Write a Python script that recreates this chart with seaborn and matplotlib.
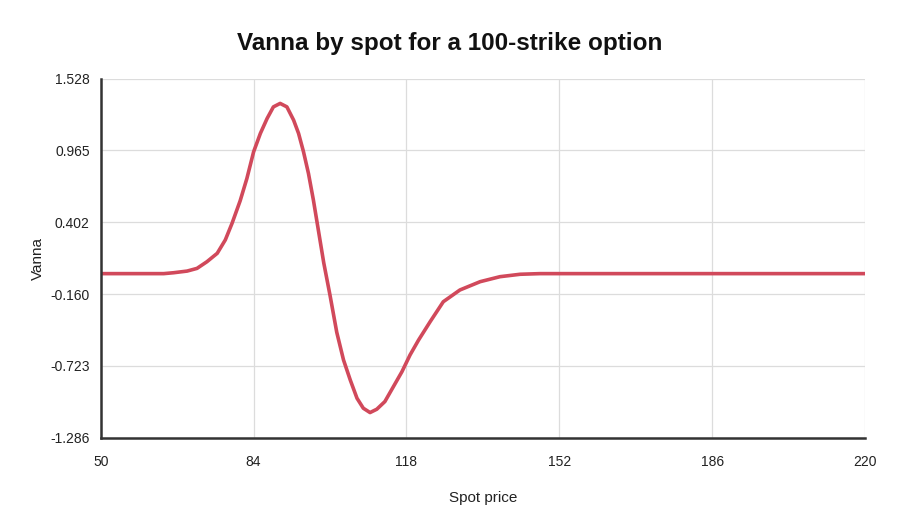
"""Vanna by spot for a 100-strike option."""

import matplotlib

matplotlib.use("Agg")
import matplotlib.pyplot as plt
import pandas as pd
import seaborn as sns

# Data
spot = [50, 55, 60, 64, 66.2, 69.2, 71.4, 73.6, 75.9, 77.7, 79.2, 81.0, 82.5,
        84.0, 85.5, 87.0, 88.4, 89.9, 91.4, 92.9, 94.0, 95.1, 96.2, 97.3,
        99.6, 101.0, 102.5, 104.0, 105.5, 107.0, 108.4, 109.9, 111.4, 113.2,
        115.1, 117.0, 118.8, 120.7, 123.3, 126.2, 129.9, 134.4, 138.8, 143.3,
        147.7, 160, 180, 200, 220]
vanna = [0.0, 0.0, 0.0, 0.0, 0.007, 0.020, 0.041, 0.093, 0.159, 0.264, 0.394,
         0.570, 0.745, 0.954, 1.098, 1.215, 1.306, 1.333, 1.306, 1.202, 1.098,
         0.954, 0.785, 0.576, 0.085, -0.170, -0.460, -0.676, -0.833, -0.976,
         -1.054, -1.088, -1.062, -1.002, -0.885, -0.768, -0.637, -0.520,
         -0.375, -0.220, -0.128, -0.063, -0.024, -0.005, 0.0, 0.0, 0.0, 0.0,
         0.0]

x_ticks = [50, 84, 118, 152, 186, 220]
y_ticks = [-1.286, -0.723, -0.160, 0.402, 0.965, 1.528]
y_labels = ["-1.286", "-0.723", "-0.160", "0.402", "0.965", "1.528"]

df = pd.DataFrame({"Spot price": spot, "Vanna": vanna})

sns.set_style("white")
plt.rcParams["font.family"] = ["Liberation Sans", "DejaVu Sans"]

fig = plt.figure(figsize=(9, 5.2), dpi=100)
ax = fig.add_axes([0.112, 0.158, 0.849, 0.691])

sns.lineplot(data=df, x="Spot price", y="Vanna", color="#d1495b",
             linewidth=2.6, ax=ax)
ax.lines[0].set_solid_joinstyle("round")
ax.lines[0].set_solid_capstyle("round")

ax.set_xlim(50, 220)
ax.set_ylim(-1.286, 1.528)
ax.set_xticks(x_ticks)
ax.set_xticklabels([str(t) for t in x_ticks])
ax.set_yticks(y_ticks)
ax.set_yticklabels(y_labels)
ax.tick_params(axis="both", length=0, labelsize=10, colors="#222222")
ax.tick_params(axis="x", pad=12)
ax.tick_params(axis="y", pad=8)
ax.grid(True, color="#dcdcdc", linewidth=0.9)
ax.set_axisbelow(True)

for side in ["top", "right"]:
    ax.spines[side].set_visible(False)
for side in ["left", "bottom"]:
    ax.spines[side].set_color("#333333")
    ax.spines[side].set_linewidth(1.8)

ax.set_xlabel("Spot price", fontsize=11, color="#222222", labelpad=16)
ax.set_ylabel("Vanna", fontsize=11, color="#222222", labelpad=4)
fig.text(0.5, 0.917, "Vanna by spot for a 100-strike option", fontsize=17.5,
         fontweight="bold", color="#111111", ha="center", va="center")

fig.savefig("out.png", dpi=100, facecolor="white")
